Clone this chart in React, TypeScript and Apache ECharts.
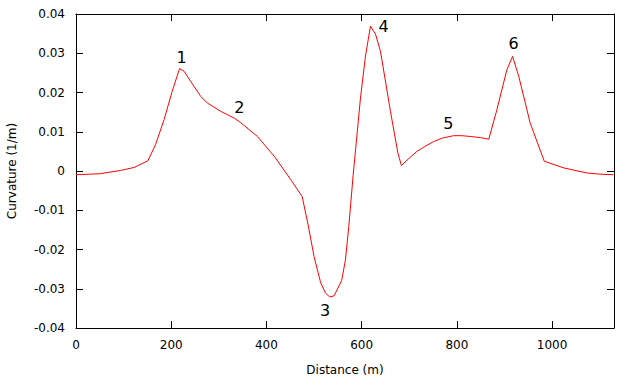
import React, { useEffect, useRef } from "react";
import * as echarts from "echarts";

const distance = [
  0, 50, 94, 122, 151, 167, 185, 202, 217.6, 227, 241, 262, 276, 304, 332, 346, 381, 418, 451, 475,
  488, 500, 514, 524, 533, 542, 558, 566, 573, 582, 597.5, 608, 618.5, 629, 639.5, 660.5, 676, 683.5,
  700, 716, 735, 751, 770, 793, 810, 828, 850, 867, 884, 905, 917, 930, 954, 983.5, 1024, 1050, 1073,
  1100, 1129,
];
const curvature = [
  -0.00095, -0.0007, 0.00015, 0.0009, 0.0026, 0.0067, 0.0131, 0.0203, 0.0261, 0.0254, 0.0228, 0.019,
  0.0173, 0.0152, 0.0135, 0.0123, 0.0088, 0.0035, -0.0022, -0.0065, -0.014, -0.0218, -0.0285, -0.0311,
  -0.0321, -0.0318, -0.0279, -0.0226, -0.0141, -0.0012, 0.0186, 0.0293, 0.0369, 0.0349, 0.0305, 0.0152,
  0.0046, 0.0014, 0.0033, 0.005, 0.0064, 0.0075, 0.0084, 0.009, 0.009, 0.0088, 0.0085, 0.0081, 0.0156,
  0.0258, 0.0292, 0.0241, 0.0122, 0.0025, 0.0008, 0.0001, -0.0005, -0.0008, -0.00095,
];

const labelNames = ["1", "2", "3", "4", "5", "6"];
const labelX = [222, 343, 523, 646, 782, 919];
const labelY = [0.029, 0.0163, -0.0356, 0.0368, 0.012, 0.0324];

const xTicks = { min: 0, max: 1130, interval: 200 };
const yTicks = { min: -0.04, max: 0.04, interval: 0.01 };

const FONT = "DejaVu Sans";

export default function App() {
  const ref = useRef<HTMLDivElement>(null);
  useEffect(() => {
    if (!ref.current) return;
    const chart = echarts.init(ref.current, null, { renderer: "svg" });
    const axisLine = { show: true, onZero: false, lineStyle: { color: "#000", width: 1 } };
    const tick = { show: true, inside: true, length: 7, lineStyle: { color: "#000" } };
    const xFmt = (v: number) => (Math.round(v) % 200 === 0 ? String(Math.round(v)) : "");
    const yFmt = (v: number) => {
      const r = Math.round(v * 100) / 100;
      return r === 0 ? "0" : r.toFixed(2);
    };
    chart.setOption({
      animation: false,
      backgroundColor: "#fff",
      textStyle: { fontFamily: FONT },
      grid: {
        left: 76,
        right: 5,
        top: 14,
        bottom: 51,
        containLabel: false,
        outerBoundsMode: "none",
      },
      xAxis: [
        {
          type: "value",
          ...xTicks,
          position: "bottom",
          axisLine,
          axisTick: tick,
          splitLine: { show: false },
          axisLabel: { formatter: xFmt, color: "#000", fontSize: 12, fontFamily: FONT, margin: 11 },
          name: "Distance (m)",
          nameLocation: "middle",
          nameGap: 36,
          nameTextStyle: { color: "#000", fontSize: 12, fontFamily: FONT },
        },
        {
          type: "value",
          ...xTicks,
          position: "top",
          axisLine,
          axisTick: tick,
          splitLine: { show: false },
          axisLabel: { show: false },
        },
      ],
      yAxis: [
        {
          type: "value",
          ...yTicks,
          position: "left",
          axisLine,
          axisTick: tick,
          splitLine: { show: false },
          axisLabel: { formatter: yFmt, color: "#000", fontSize: 12, fontFamily: FONT, margin: 11 },
          name: "Curvature (1/m)",
          nameLocation: "middle",
          nameGap: 58,
          nameTextStyle: { color: "#000", fontSize: 12, fontFamily: FONT },
        },
        {
          type: "value",
          ...yTicks,
          position: "right",
          axisLine,
          axisTick: tick,
          splitLine: { show: false },
          axisLabel: { show: false },
        },
      ],
      series: [
        {
          type: "line",
          data: distance.map((d, i) => [d, curvature[i]]),
          showSymbol: false,
          symbol: "none",
          lineStyle: { color: "#ff0000", width: 1 },
          silent: true,
          markPoint: {
            symbol: "circle",
            symbolSize: 0,
            silent: true,
            label: {
              show: true,
              position: "inside",
              color: "#000",
              fontSize: 16,
              fontFamily: FONT,
              formatter: (p: any) => p.name,
            },
            data: labelNames.map((n, i) => ({ name: n, coord: [labelX[i], labelY[i]] })),
          },
        },
      ],
    });
    return () => chart.dispose();
  }, []);
  return <div ref={ref} style={{ width: 619, height: 379, position: "absolute", left: 0, top: 0 }} />;
}
